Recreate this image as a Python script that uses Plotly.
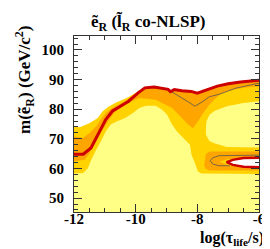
import plotly.graph_objects as go

# ---------------- data ----------------
# upper boundary of the excluded region (thick red line)
red_x = [-12.0, -11.7, -11.45, -11.28, -11.13, -10.97, -10.76, -10.49, -10.23, -9.92, -9.7, -9.4, -9.1,
         -8.95, -8.87, -8.75, -8.5, -8.2, -8.0, -7.85, -7.6, -7.35, -7.0, -6.6, -6.0]
red_y = [64.8, 64.8, 66.9, 70.3, 73.6, 76.5, 79.3, 81.0, 82.7, 85.5, 87.2, 87.5, 87.0,
         86.7, 85.9, 86.6, 86.2, 86.0, 85.4, 86.0, 87.0, 87.8, 88.6, 89.2, 89.8]

# outer (gold) band, top boundary on the left before it meets the red line
gold_top_x = [-12.0, -11.81, -11.49, -11.23, -11.07, -10.86, -10.6, -10.29, -9.92]
gold_top_y = [74.3, 73.9, 75.3, 77.0, 79.3, 81.0, 82.4, 83.8, 86.0]

# orange band: top boundary on the left
orange_top_x = [-12.0, -11.71, -11.49, -11.28, -11.13, -10.97, -10.76, -10.44, -10.02]
orange_top_y = [70.8, 70.3, 72.0, 74.2, 76.5, 78.7, 80.4, 82.1, 84.9]
# orange band: lower boundary, right to left
orange_bot_x = [-6.0, -6.5, -7.0, -7.24, -7.45, -7.61, -7.77, -7.98, -8.14, -8.3, -8.5, -8.82,
                -9.35, -9.9, -10.34, -10.65, -10.86, -11.07, -11.28, -11.49, -11.65, -12.0]
orange_bot_y = [87.7, 87.2, 86.2, 85.2, 83.3, 81.5, 79.3, 75.9, 73.6, 74.8, 77.0, 80.4,
                83.2, 83.8, 81.5, 79.3, 76.5, 73.1, 69.2, 65.2, 62.9, 62.4]

# orange pocket at low mass, long lifetime
orange_box_x = [-7.78, -7.72, -7.6, -6.0, -6.0, -7.6, -7.72, -7.78]
orange_box_y = [61.0, 64.9, 65.7, 65.7, 59.3, 59.3, 59.8, 61.0]

# innermost (pale yellow) region, main part
pale_x = [-12.0, -12.0, -11.71, -11.55, -11.44, -11.28, -11.13, -10.97, -10.81, -10.6, -10.34,
          -10.1, -9.88, -9.66, -9.35, -9.14, -8.98, -8.82, -8.66, -8.4, -8.24, -8.19, -8.08,
          -7.98, -7.87, -6.0, -6.0]
pale_y = [45.0, 58.4, 58.4, 60.1, 62.9, 66.3, 69.1, 72.5, 74.8, 75.9, 77.0,
          78.6, 80.4, 81.2, 81.2, 79.8, 78.1, 74.8, 72.5, 69.7, 68.0, 64.6, 61.8,
          59.0, 58.3, 58.1, 45.0]

# pale yellow bubble at long lifetime
bubble_x = [-7.72, -7.7, -7.61, -7.45, -7.04, -6.51, -6.0, -6.0, -7.04, -7.45, -7.61, -7.72]
bubble_y = [74.2, 76.0, 78.0, 79.4, 81.0, 82.1, 82.7, 67.1, 67.2, 68.5, 69.3, 71.4]

# gold tongue around the allowed island
tongue_x = [-6.0, -7.0, -7.3, -7.0, -6.0]
tongue_y = [63.4, 63.2, 62.3, 61.1, 60.6]

# allowed (white) island with red border
island_x = [-6.0, -6.5, -6.85, -7.05, -6.85, -6.5, -6.0]
island_y = [63.6, 63.5, 62.9, 62.1, 61.2, 60.6, 60.4]

# thin expected-limit lines
exp_x = [-8.9, -8.6, -8.3, -8.08, -7.85, -7.61, -7.3, -6.75, -6.05, -6.0]
exp_y = [86.3, 84.5, 82.5, 81.0, 82.4, 84.2, 85.0, 87.1, 88.7, 88.8]
exp2_x = [-6.0, -7.3, -7.5, -7.58, -7.5, -7.3, -6.95]
exp2_y = [64.5, 64.3, 63.6, 62.6, 61.5, 60.9, 60.9]

x_ticks = [-12, -10, -8, -6]
y_ticks = [50, 60, 70, 80, 90, 100]

PALE = "#FFFF85"
GOLD = "#FFD200"
ORANGE = "#FFA500"
RED = "#CC0000"

fig = go.Figure()

def poly(x, y, color):
    fig.add_trace(go.Scatter(x=x, y=y, fill="toself", fillcolor=color, mode="none",
                             hoverinfo="skip", showlegend=False))

env_x = gold_top_x + [v for v in red_x if v > -9.9] + [-6.0, -12.0]
env_y = gold_top_y + [w for v, w in zip(red_x, red_y) if v > -9.9] + [45.0, 45.0]
poly(env_x, env_y, GOLD)

or_x = orange_top_x + [v for v in red_x if v > -10.0] + orange_bot_x
or_y = orange_top_y + [w for v, w in zip(red_x, red_y) if v > -10.0] + orange_bot_y
poly(or_x, or_y, ORANGE)
poly(orange_box_x, orange_box_y, ORANGE)
poly(pale_x, pale_y, PALE)
poly(bubble_x, bubble_y, PALE)
poly(tongue_x, tongue_y, GOLD)
poly(island_x, island_y, "white")

fig.add_trace(go.Scatter(x=island_x, y=island_y, mode="lines",
                         line=dict(color=RED, width=2.5), hoverinfo="skip", showlegend=False))
for lx, ly in [(exp_x, exp_y), (exp2_x, exp2_y)]:
    fig.add_trace(go.Scatter(x=lx, y=ly, mode="lines",
                             line=dict(color="#555555", width=0.8), hoverinfo="skip", showlegend=False))
fig.add_trace(go.Scatter(x=red_x, y=red_y, mode="lines",
                         line=dict(color=RED, width=3), hoverinfo="skip", showlegend=False))

tickfont = dict(family="Liberation Serif", size=15, color="black", weight="bold")
axis_common = dict(showgrid=False, zeroline=False, showline=True, linecolor="#333333", linewidth=1,
                   mirror="ticks", ticks="inside", tickcolor="#333333", tickfont=tickfont)

fig.update_xaxes(range=[-12, -6], tickvals=x_ticks, ticktext=[str(v) for v in x_ticks],
                 ticklen=8, ticklabelstandoff=-7,
                 minor=dict(dtick=0.5, ticklen=4, ticks="inside", tickcolor="#333333"),
                 **axis_common)
fig.update_yaxes(range=[45.3, 104.7], tickvals=y_ticks, ticktext=[str(v) for v in y_ticks],
                 ticklen=8, ticklabelstandoff=6,
                 minor=dict(dtick=2, ticklen=4, ticks="inside", tickcolor="#333333"),
                 **axis_common)

fig.update_layout(
    width=270, height=249,
    margin=dict(l=66, r=14, t=28, b=45),
    paper_bgcolor="white", plot_bgcolor="white",
    showlegend=False,
    annotations=[
        dict(text="ẽ<sub>R</sub> (l̃<sub>R</sub> co-NLSP)", xref="paper", yref="paper",
             x=0.40, y=1.0, yshift=14, xanchor="center", yanchor="middle", showarrow=False,
             font=dict(family="Liberation Serif", size=17, color="black", weight="bold")),
        dict(text="m(ẽ<sub>R</sub>) (GeV/c<sup>2</sup>)", xref="paper", yref="paper",
             x=0, xshift=-50, y=0.75, xanchor="center", yanchor="middle", textangle=-90,
             showarrow=False,
             font=dict(family="Liberation Serif", size=17, color="black", weight="bold")),
        dict(text="log(τ<sub>life</sub>/s)", xref="paper", yref="paper",
             x=1.0, xshift=7, y=0, yshift=-26, xanchor="right", yanchor="middle", showarrow=False,
             font=dict(family="Liberation Serif", size=16, color="black", weight="bold")),
    ],
)

fig.write_html("out.html")
